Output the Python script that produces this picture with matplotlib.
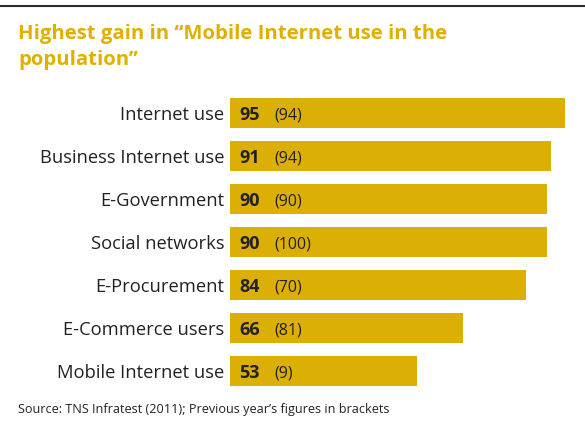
import matplotlib
matplotlib.use("Agg")
import matplotlib.pyplot as plt
from matplotlib.lines import Line2D

categories = ["Internet use", "Business Internet use", "E-Government",
              "Social networks", "E-Procurement", "E-Commerce users",
              "Mobile Internet use"]
values_2011 = [95, 91, 90, 90, 84, 66, 53]
values_prev = [94, 94, 90, 100, 70, 81, 9]

GOLD = "#DBAF05"
TEXT = "#222222"

W, H = 585, 423
fig = plt.figure(figsize=(W / 100, H / 100), dpi=100)
fig.patch.set_facecolor("white")

# axes in pixel terms: x from 230 to 582.6 (0..100), y from 91.5 to 392.5
x0, x1 = 230, 582.6
y_top, y_bot = 91.5, 392.5
ax = fig.add_axes([x0 / W, 1 - y_bot / H, (x1 - x0) / W, (y_bot - y_top) / H])
ax.set_xlim(0, 100)
n = len(categories)
ax.set_ylim(n - 0.5, -0.5)
ypos = list(range(n))
ax.barh(ypos, values_2011, height=0.71, color=GOLD, edgecolor="none")
for s in ax.spines.values():
    s.set_visible(False)
ax.set_xticks([])
ax.set_yticks(ypos)
ax.set_yticklabels(categories, fontsize=13.2, color=TEXT, family="Open Sans")
ax.tick_params(axis="y", length=0, pad=4)

for y, v, p in zip(ypos, values_2011, values_prev):
    ax.text(2.7, y + 0.04, f"{v}", ha="left", va="center", fontsize=13,
            fontweight="bold", color=TEXT, family="Open Sans")
    ax.text(12.6, y + 0.06, f"({p})", ha="left", va="center", fontsize=11.5,
            color=TEXT, family="Open Sans")

# top rule
fig.add_artist(Line2D([0, 1], [1 - 6 / H, 1 - 6 / H], color="#2a2a2a", lw=1.5))

fig.text(18 / W, 1 - 47 / H, "Highest gain in \u201cMobile Internet use in the\npopulation\u201d",
         ha="left", va="center", fontsize=14.6, fontweight="bold", color="#E0B000",
         family="Open Sans", linespacing=1.38)
fig.text(18 / W, 1 - 409 / H, "Source: TNS Infratest (2011); Previous year\u2019s figures in brackets",
         ha="left", va="center", fontsize=9.1, color=TEXT, family="Open Sans")

fig.savefig("out.png", dpi=100, facecolor="white")
